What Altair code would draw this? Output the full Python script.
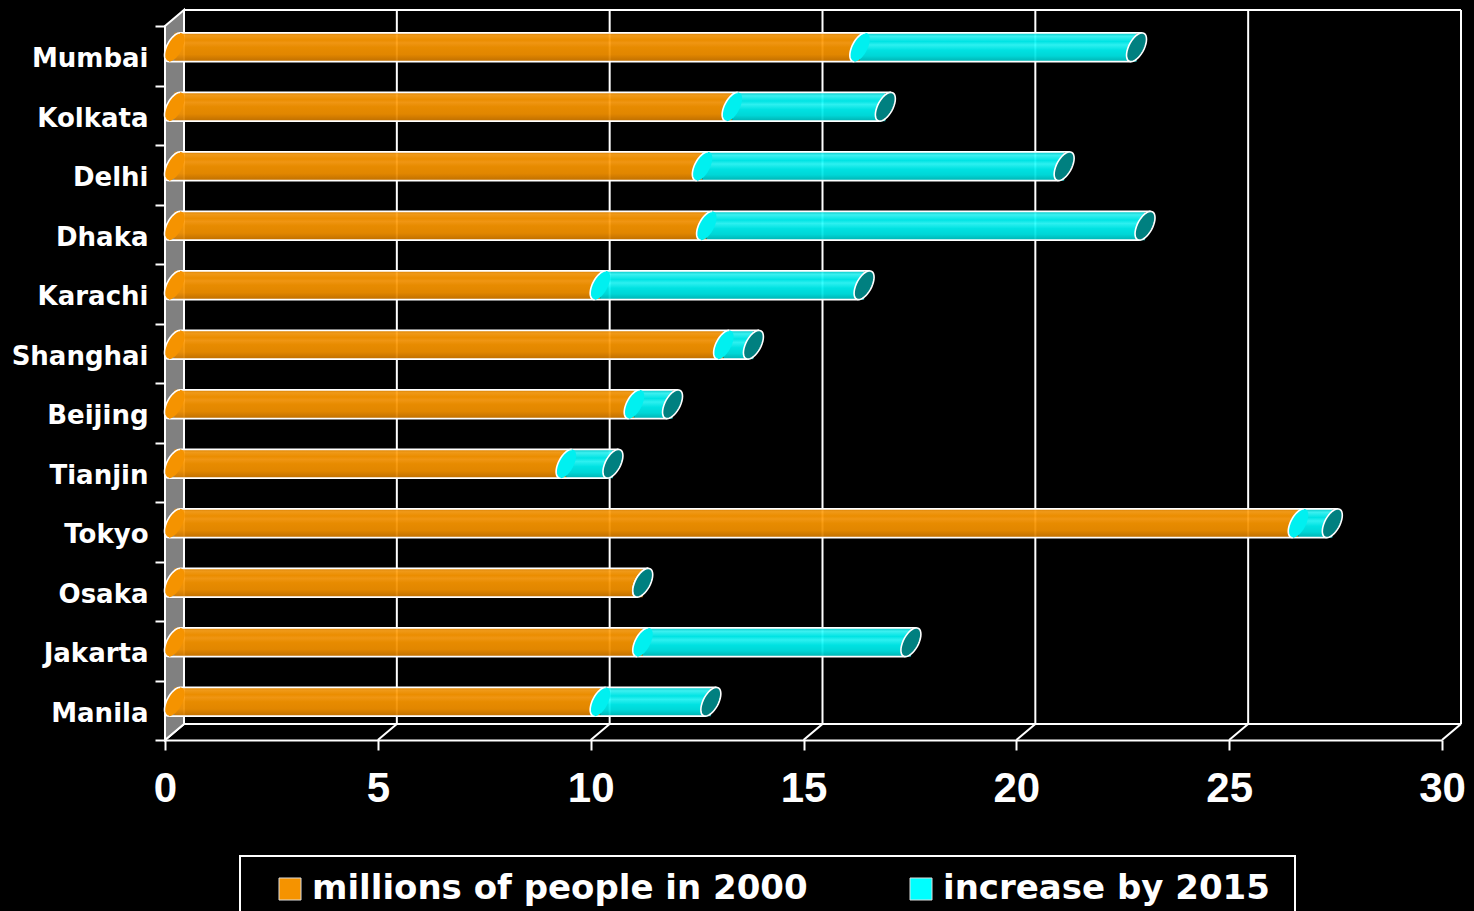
import math
import altair as alt
import pandas as pd

# ---------------- data ----------------
cities = ["Mumbai", "Kolkata", "Delhi", "Dhaka", "Karachi", "Shanghai",
          "Beijing", "Tianjin", "Tokyo", "Osaka", "Jakarta", "Manila"]
pop_2000 = [16.1, 13.1, 12.4, 12.5, 10.0, 12.9, 10.8, 9.2, 26.4, 11.0, 11.0, 10.0]
increase_2015 = [6.5, 3.6, 8.5, 10.3, 6.2, 0.7, 0.9, 1.1, 0.8, 0.0, 6.3, 2.6]
series_names = ["millions of people in 2000", "increase by 2015"]
x_ticks = [0, 5, 10, 15, 20, 25, 30]

# ---------------- layout / style constants ----------------
W, H = 1277, 714          # front plane of the plot
DX, DY = 19, -16          # 3D depth offset of the back plane
BX, BY = 9.5, -8.5        # offset of the cylinder axis (mid depth)
EA, EB, EC = 10.0, 12.0, -8.0   # tilted ellipse parameters (px)
HALF = math.hypot(EB, EC)

def ellipse_pt(t):
    return EA * math.sin(t), EB * math.cos(t) + EC * math.sin(t)

ell_pts = [ellipse_pt(math.radians(d)) for d in range(0, 360, 10)]
ELLIPSE = "M" + " L".join(f"{x:.2f},{y:.2f}" for x, y in ell_pts) + " Z"
phi = math.atan2(EC, EB)
t0 = math.pi + phi
arc_pts = [ellipse_pt(t0 + math.pi * k / 24) for k in range(25)]
LEFT_ARC = "M" + " L".join(f"{x:.2f},{y:.2f}" for x, y in arc_pts)
WALL = f"M0,0 L{DX},{DY} L{DX},{H + DY} L0,{H} Z"

ORANGE = "#F59300"
CYAN = "#00F0F0"
TEAL = "#008080"

grad_orange = alt.Gradient(
    gradient="linear", x1=0, x2=0, y1=0, y2=1,
    stops=[alt.GradientStop(color="#E58700", offset=0),
           alt.GradientStop(color="#FFA31A", offset=0.1),
           alt.GradientStop(color="#FA9600", offset=0.25),
           alt.GradientStop(color="#FF9F14", offset=0.35),
           alt.GradientStop(color="#F69400", offset=0.5),
           alt.GradientStop(color="#F08F00", offset=0.75),
           alt.GradientStop(color="#CA7500", offset=1)])
grad_cyan = alt.Gradient(
    gradient="linear", x1=0, x2=0, y1=0, y2=1,
    stops=[alt.GradientStop(color="#00D0D0", offset=0),
           alt.GradientStop(color="#40FFFF", offset=0.12),
           alt.GradientStop(color="#00F2F2", offset=0.3),
           alt.GradientStop(color="#30FFFF", offset=0.42),
           alt.GradientStop(color="#00F0F0", offset=0.6),
           alt.GradientStop(color="#00E4E4", offset=0.8),
           alt.GradientStop(color="#00BDBD", offset=1)])

# ---------------- tables ----------------
rows = []
for c, p, inc in zip(cities, pop_2000, increase_2015):
    rows.append({"city": c, "series": series_names[0], "start": 0.0, "end": p})
    rows.append({"city": c, "series": series_names[1], "start": p, "end": round(p + inc, 2)})
bars = pd.DataFrame(rows)
totals = pd.DataFrame({"city": cities, "zero": [0.0] * len(cities),
                       "total": [round(p + i, 2) for p, i in zip(pop_2000, increase_2015)]})
ticks_df = pd.DataFrame({"v": x_ticks})
one = pd.DataFrame({"k": [0]})

xscale = alt.Scale(domain=[0, 30], nice=False, zero=True)
yscale = alt.Scale(type="band", domain=cities, paddingInner=0, paddingOuter=0)

def Y():
    return alt.Y("city:N", sort=cities, scale=yscale, title=None)

# ---------------- frame ----------------
grid = alt.Chart(ticks_df).mark_rule(color="white", strokeWidth=2, xOffset=DX).encode(
    x=alt.X("v:Q", scale=xscale, title=None,
            axis=alt.Axis(values=x_ticks, labelFont="Liberation Sans", labelFontSize=42)),
    y=alt.value(DY), y2=alt.value(H + DY))
diag = alt.Chart(ticks_df).mark_rule(color="white", strokeWidth=2, x2Offset=DX).encode(
    x=alt.X("v:Q", scale=xscale, title=None), x2="v:Q",
    y=alt.value(H), y2=alt.value(H + DY))
back_top = alt.Chart(one).mark_rule(color="white", strokeWidth=2, xOffset=DX, x2Offset=DX).encode(
    x=alt.datum(0), x2=alt.datum(30), y=alt.value(DY))
back_bottom = alt.Chart(one).mark_rule(color="white", strokeWidth=2, xOffset=DX, x2Offset=DX).encode(
    x=alt.datum(0), x2=alt.datum(30), y=alt.value(H + DY))
wall = alt.Chart(one).mark_point(shape=WALL, size=4, filled=True, fill="#808080",
                                 stroke="white", strokeWidth=2, opacity=1).encode(
    x=alt.datum(0), y=alt.value(0))

# ---------------- cylinders ----------------
f_base = alt.FieldEqualPredicate(field="series", equal=series_names[0])
f_inc = alt.FieldEqualPredicate(field="series", equal=series_names[1])

def rect_layer(pred, grad):
    return alt.Chart(bars).transform_filter(pred).mark_bar(
        size=2 * HALF, xOffset=BX, x2Offset=BX, yOffset=BY, color=grad, opacity=0.94
    ).encode(x=alt.X("start:Q", scale=xscale, title=None), x2="end:Q", y=Y())

def cap_fill(pred, col):
    return alt.Chart(bars).transform_filter(pred).mark_point(
        shape=ELLIPSE, size=4, filled=True, fill=col, strokeWidth=0, opacity=1,
        xOffset=BX, yOffset=BY
    ).encode(x=alt.X("start:Q", scale=xscale, title=None), y=Y())

def cap_arc(pred):
    return alt.Chart(bars).transform_filter(pred).mark_point(
        shape=LEFT_ARC, size=4, filled=False, color="white", strokeWidth=1.6, opacity=1,
        xOffset=BX, yOffset=BY
    ).encode(x=alt.X("start:Q", scale=xscale, title=None), y=Y())

sx = EA * math.sin(t0)
top_line = alt.Chart(totals).mark_rule(color="white", strokeWidth=1.6,
                                       xOffset=BX + sx, x2Offset=BX + sx, yOffset=BY - HALF).encode(
    x=alt.X("zero:Q", scale=xscale, title=None), x2="total:Q", y=Y())
bottom_line = alt.Chart(totals).mark_rule(color="white", strokeWidth=1.6,
                                          xOffset=BX - sx, x2Offset=BX - sx, yOffset=BY + HALF).encode(
    x=alt.X("zero:Q", scale=xscale, title=None), x2="total:Q", y=Y())
end_cap = alt.Chart(totals).mark_point(
    shape=ELLIPSE, size=4, filled=True, fill=TEAL, stroke="white", strokeWidth=1.6, opacity=1,
    xOffset=BX, yOffset=BY
).encode(x=alt.X("total:Q", scale=xscale, title=None), y=Y())

# ---------------- legend ----------------
legend_box = alt.Chart(one).mark_rect(fill="black", stroke="white", strokeWidth=2).encode(
    x=alt.value(75), x2=alt.value(1130), y=alt.value(830), y2=alt.value(900))
legend_layer = alt.Chart(bars).mark_square(opacity=0).encode(
    x=alt.X("start:Q", scale=xscale, title=None), y=Y(),
    color=alt.Color("series:N",
                    scale=alt.Scale(domain=series_names, range=[ORANGE, "#00FFFF"]),
                    legend=alt.Legend(title=None, orient="none", legendX=108, legendY=846,
                                      direction="horizontal", zindex=2,
                                      labelColor="white", labelFont="DejaVu Sans",
                                      labelFontWeight="bold", labelFontSize=34,
                                      labelLimit=1000, labelOffset=5,
                                      columnPadding=96, padding=0,
                                      symbolType="square", symbolSize=484,
                                      symbolOpacity=1, symbolStrokeColor="#dddddd",
                                      symbolStrokeWidth=1)))

chart = alt.layer(
    grid, back_top, back_bottom, diag, wall,
    rect_layer(f_base, grad_orange), rect_layer(f_inc, grad_cyan),
    top_line, bottom_line,
    cap_fill(f_base, ORANGE), cap_arc(f_base),
    cap_fill(f_inc, CYAN), cap_arc(f_inc),
    end_cap,
    legend_box, legend_layer,
).properties(
    width=W, height=H,
    autosize=alt.AutoSizeParams(type="none"),
    padding={"left": 165, "top": 26, "right": 32, "bottom": 171},
    background="black",
).configure_view(stroke="transparent").configure_axisX(
    grid=False, domainColor="white", domainWidth=2, tickColor="white", tickWidth=2,
    tickSize=10, labelColor="white", labelFont="Liberation Sans", labelFontWeight="bold",
    labelFontSize=42, labelPadding=18, labelFlush=False,
).configure_axisY(
    grid=False, domainColor="white", domainWidth=2, tickColor="white", tickWidth=2,
    tickSize=10, tickBand="extent", labelColor="white", labelFont="DejaVu Sans",
    labelFontWeight="bold", labelFontSize=26, labelPadding=7, labelOffset=3,
)

chart.save("out.html", embed_options={"renderer": "svg", "actions": False})
